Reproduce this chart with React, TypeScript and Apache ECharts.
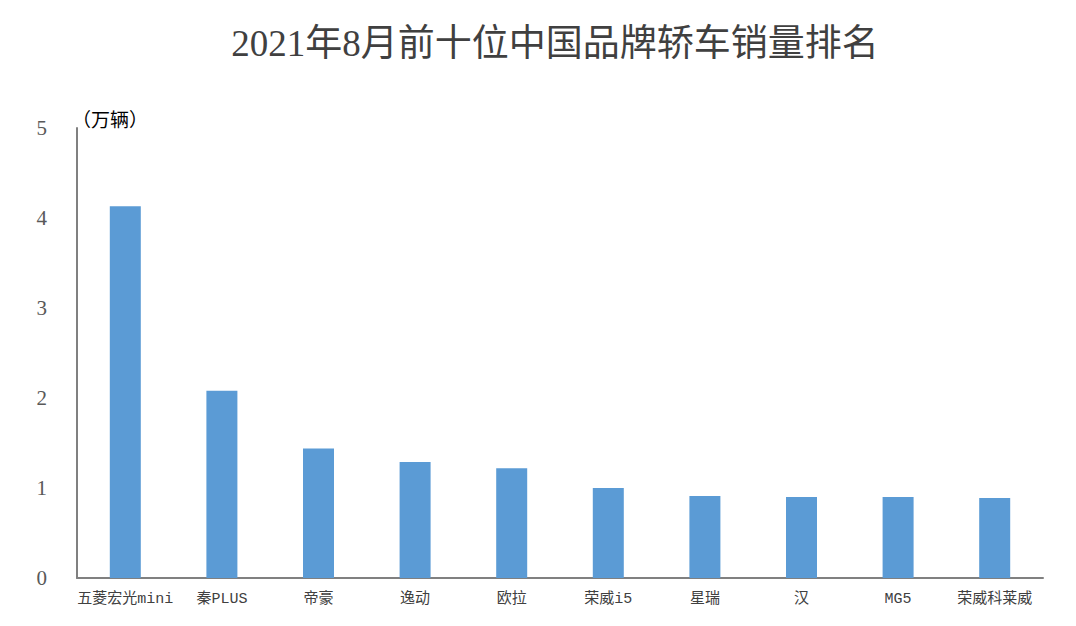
import React, { useEffect, useRef } from "react";
import * as echarts from "echarts";

const titleText = "2021年8月前十位中国品牌轿车销量排名";
const unitText = "（万辆）";
const categories = ["五菱宏光mini", "秦PLUS", "帝豪", "逸动", "欧拉", "荣威i5", "星瑞", "汉", "MG5", "荣威科莱威"];
const sales = [4.13, 2.08, 1.44, 1.29, 1.22, 1.0, 0.91, 0.9, 0.9, 0.89];

const FONT = "'Liberation Serif', 'Noto Sans CJK SC', serif";
const LABEL_FONT = "'Liberation Mono', 'Noto Sans CJK SC', monospace";

export default function App() {
  const ref = useRef<HTMLDivElement>(null);
  useEffect(() => {
    if (!ref.current) return;
    const chart = echarts.init(ref.current, null, { renderer: "svg" });
    chart.setOption({
      animation: false,
      backgroundColor: "#ffffff",
      title: {
        text: titleText,
        left: 542,
        textAlign: "center",
        top: 12,
        textStyle: { fontFamily: FONT, fontSize: 37, fontWeight: "normal", color: "#404040" },
      },
      grid: { left: 69, right: 25, top: 120, bottom: 40, containLabel: false },
      graphic: [
        {
          type: "text",
          left: 64,
          top: 103,
          style: { text: unitText, fontFamily: FONT, fontSize: 19, fill: "#000000" },
        },
      ],
      xAxis: {
        type: "category",
        data: categories,
        axisLine: { lineStyle: { color: "#808080", width: 2 } },
        axisTick: { show: false },
        axisLabel: { fontFamily: LABEL_FONT, fontSize: 15, color: "#404040", margin: 14, interval: 0 },
      },
      yAxis: {
        type: "value",
        min: 0,
        max: 5,
        interval: 1,
        axisLine: { show: true, lineStyle: { color: "#808080", width: 2 } },
        axisTick: { show: false },
        splitLine: { show: false },
        axisLabel: { fontFamily: FONT, fontSize: 21, color: "#595959", margin: 30 },
      },
      series: [
        {
          type: "bar",
          data: sales,
          barWidth: 31,
          itemStyle: { color: "#5B9BD5" },
        },
      ],
    });
    return () => chart.dispose();
  }, []);
  return <div ref={ref} style={{ width: 1060, height: 610 }} />;
}
